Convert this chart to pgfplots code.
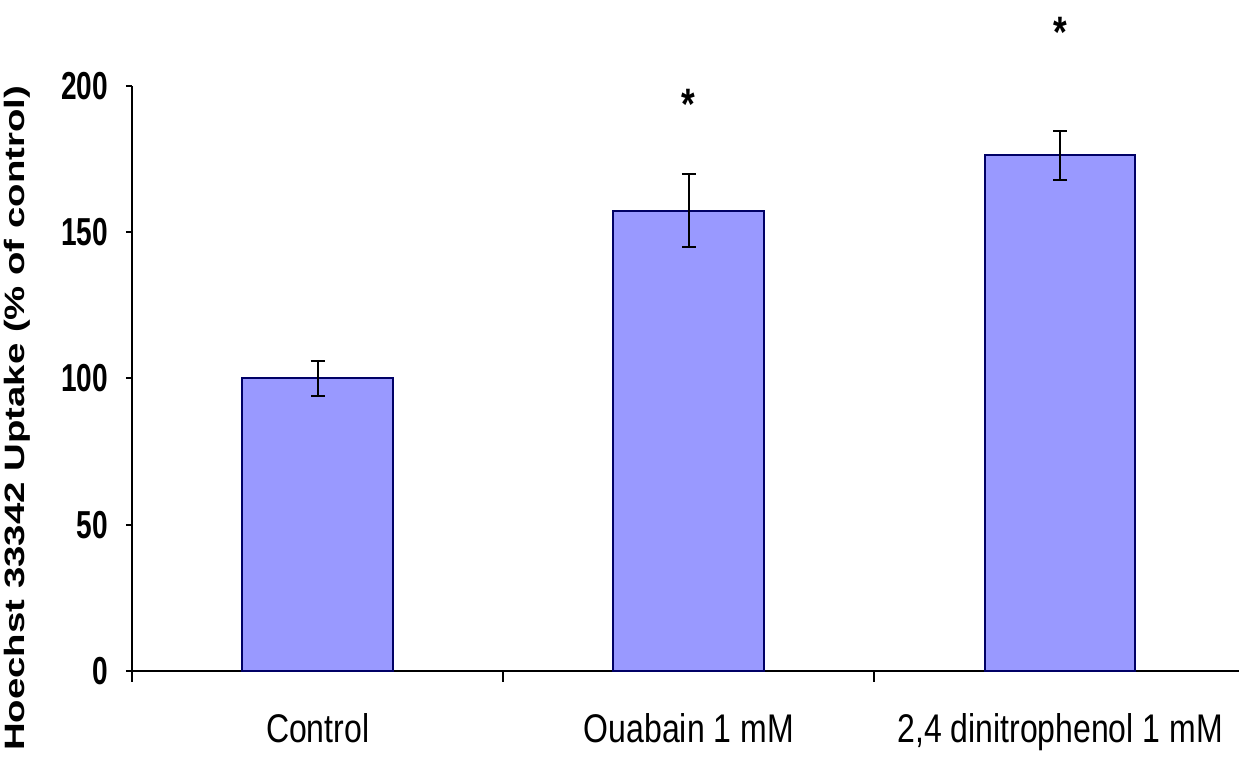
\documentclass[border=0pt]{standalone}
\usepackage{pgfplots}
\pgfplotsset{compat=1.18}
\usepackage{fontspec}
\setmainfont{Liberation Sans}
\newfontfamily\xlabfont{Liberation Sans}[FakeStretch=0.8]
\newfontfamily\ytickfont{Liberation Sans}[FakeStretch=0.72]
\newfontfamily\ylabfont{Liberation Sans}[FakeStretch=1.37]
\definecolor{barfill}{HTML}{9999FF}
\definecolor{baredge}{HTML}{000066}
\begin{document}
\begin{tikzpicture}
\begin{axis}[name=ax,
  scale only axis, width=553.5pt, height=292.5pt,
  xmin=-0.5, xmax=2.482, ymin=0, ymax=200,
  axis x line*=bottom, axis y line*=left,
  axis line style={line width=1.2pt, black},
  xtick={0,1,2},
  xticklabels={Control, Ouabain 1 mM, {2,4 dinitrophenol 1 mM}},
  major x tick style={draw=none},
  minor xtick={-0.5,0.5,1.5,2.5},
  minor tick length=5.5pt, major tick length=3pt,
  tick align=outside,
  tick style={black, line width=1pt},
  ytick={0,50,100,150,200},
  /pgf/number format/assume math mode=true,
  yticklabel style={font=\ytickfont\bfseries\fontsize{19.5}{20}\selectfont, xshift=-5.5pt},
  xticklabel style={font=\xlabfont\fontsize{20}{24}\selectfont, yshift=-14.5pt},
  ylabel={Hoechst 33342 Uptake (\% of control)},
  ylabel style={font=\ylabfont\bfseries\fontsize{14}{16}\selectfont, at={(axis description cs:-0.1035,0.432)}, anchor=center},
  clip=false,
]
\addplot[ybar, bar width=0.406, fill=barfill, draw=baredge, line width=1pt,
  error bars/.cd, y dir=both, y explicit,
  error bar style={black, line width=1pt},
  error mark options={rotate=90, mark size=3.5pt, line width=1pt, black}]
  coordinates {(0,100) +- (0,6) (1,157.4) +- (0,12.6) (2,176.3) +- (0,8.4)};
\node[font=\xlabfont\bfseries\fontsize{22}{22}\selectfont] at (axis cs:1,193.8) {*};
\node[font=\xlabfont\bfseries\fontsize{22}{22}\selectfont] at (axis cs:2,218.5) {*};
\end{axis}
\pgfresetboundingbox
\path[use as bounding box] ([shift={(-66pt,-44pt)}]ax.south west) rectangle ([shift={(0pt,43pt)}]ax.north east);
\end{tikzpicture}
\end{document}
